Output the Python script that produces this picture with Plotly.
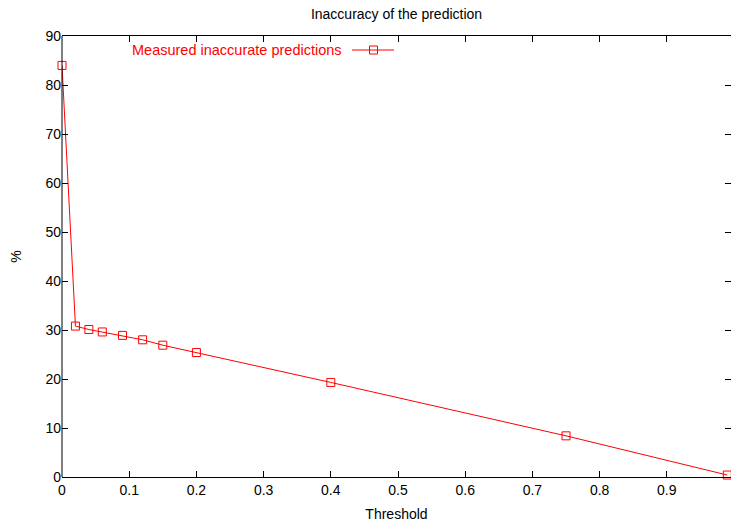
import plotly.graph_objects as go

# Threshold values and the share of inaccurate predictions (%) at each
threshold = [0.0, 0.02, 0.04, 0.06, 0.09, 0.12, 0.15, 0.2, 0.4, 0.75, 0.99]
inaccurate = [84.0, 30.8, 30.1, 29.6, 28.9, 28.0, 26.9, 25.4, 19.3, 8.4, 0.4]

x_ticks = [0, 0.1, 0.2, 0.3, 0.4, 0.5, 0.6, 0.7, 0.8, 0.9]
x_labels = ["0", "0.1", "0.2", "0.3", "0.4", "0.5", "0.6", "0.7", "0.8", "0.9"]
y_ticks = [0, 10, 20, 30, 40, 50, 60, 70, 80, 90]

series_name = "Measured inaccurate predictions"
RED = "#ff0000"
FONT = "Liberation Sans, Arial, Helvetica, sans-serif"

fig = go.Figure()
fig.add_trace(go.Scatter(
    x=threshold, y=inaccurate, mode="lines+markers", name=series_name,
    line=dict(color=RED, width=1),
    marker=dict(symbol="square-open", size=8, color=RED, line=dict(width=1, color=RED)),
    showlegend=False, cliponaxis=False,
))

fig.update_layout(
    width=731, height=523,
    margin=dict(l=62, r=0, t=36, b=46),
    paper_bgcolor="white", plot_bgcolor="white",
    font=dict(family=FONT, size=14, color="black"),
    title=dict(text="Inaccuracy of the prediction", x=(62 + 731) / 2 / 731, xanchor="center",
               y=1 - 14 / 523, yanchor="middle", font=dict(size=14, family=FONT)),
    xaxis=dict(
        range=[0, 0.9955], tickvals=x_ticks, ticktext=x_labels,
        ticks="inside", ticklen=6, tickwidth=1, tickcolor="black",
        showline=True, linecolor="black", linewidth=1, mirror="ticks",
        showgrid=False, zeroline=False,
        title=dict(text="Threshold", font=dict(size=14), standoff=12),
    ),
    yaxis=dict(
        range=[0, 90], tickvals=y_ticks,
        ticks="inside", ticklen=6, tickwidth=1, tickcolor="black",
        showline=False, mirror="ticks",
        showgrid=False, zeroline=False,
        title=dict(text="%", font=dict(size=14), standoff=20),
    ),
    showlegend=False,
)

# left frame edge
fig.add_shape(type="line", xref="paper", yref="paper", x0=0, x1=0, y0=0, y1=1,
              line=dict(color="black", width=1))

# key: label on the left, line sample with a marker on the right
fig.add_annotation(text=series_name, xref="paper", yref="paper",
                   x=(344 - 62) / 669, y=1 - (50 - 36) / 441,
                   xanchor="right", yanchor="middle", showarrow=False,
                   font=dict(color=RED, size=14.5, family=FONT))
fig.add_shape(type="line", xref="paper", yref="paper",
              x0=(352 - 62) / 669, x1=(394 - 62) / 669,
              y0=1 - (50 - 36) / 441, y1=1 - (50 - 36) / 441,
              line=dict(color=RED, width=1))
fig.add_shape(type="rect", xref="paper", yref="paper",
              x0=(369.5 - 62) / 669, x1=(377.5 - 62) / 669,
              y0=1 - (54 - 36) / 441, y1=1 - (46 - 36) / 441,
              line=dict(color=RED, width=1), fillcolor="rgba(0,0,0,0)")

fig.write_html("out.html")
